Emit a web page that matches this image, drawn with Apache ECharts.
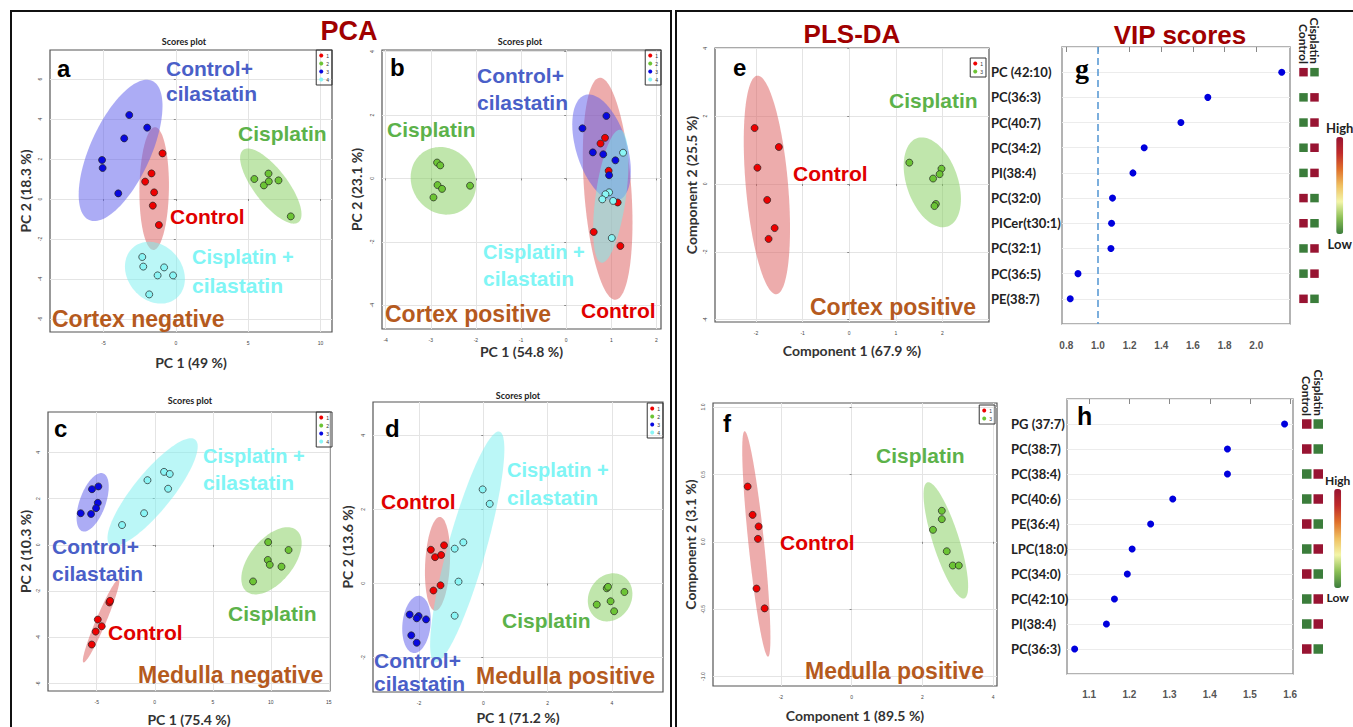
<!DOCTYPE html>
<html><head><meta charset="utf-8">
<script src="https://cdn.jsdelivr.net/npm/echarts@6/dist/echarts.min.js"></script>
<style>html,body{margin:0;padding:0;background:#fff}#c{width:1353px;height:727px}</style>
</head><body><div id="c"></div>
<script>
// ===== DATA =====
// Panel a : PCA cortex negative  [PC1, PC2]
const aControl       = [[-0.92,2.28],[-1.68,1.28],[-2.12,0.87],[-1.50,0.33],[-1.59,-0.33],[-1.17,-1.30]];
const aCisplatin     = [[5.43,1.00],[6.41,1.27],[6.09,0.68],[6.43,0.88],[7.10,0.93],[7.95,-0.87]];
const aControlCila   = [[-3.22,4.20],[-1.98,3.57],[-3.57,3.03],[-5.10,1.95],[-5.06,1.55],[-3.98,0.28]];
const aCisplatinCila = [[-2.32,-2.90],[-2.25,-3.38],[-0.81,-3.42],[-1.26,-3.82],[-0.19,-3.82],[-1.84,-4.77]];
// Panel b : PCA cortex positive
const bControl       = [[0.86,1.28],[0.76,1.10],[0.94,0.24],[1.14,-0.76],[0.61,-1.69],[1.20,-2.13]];
const bCisplatin     = [[-2.86,0.50],[-2.79,0.41],[-2.85,-0.21],[-2.75,-0.33],[-2.13,-0.23],[-2.94,-0.60]];
const bControlCila   = [[0.89,1.97],[0.36,1.58],[0.59,0.82],[0.82,0.76],[1.09,0.57],[0.95,0.10]];
const bCisplatinCila = [[1.26,0.81],[0.95,-0.44],[0.87,-0.50],[0.80,-0.66],[1.04,-0.71],[1.01,-1.88]];
// Panel c : PCA medulla negative
const cControl       = [[-3.91,-2.49],[-3.85,-2.42],[-4.91,-3.23],[-4.57,-3.52],[-5.09,-3.75],[-5.43,-4.31]];
const cCisplatin     = [[9.77,0.12],[11.53,-0.22],[9.74,-0.65],[9.91,-0.86],[10.92,-0.94],[8.47,-1.58]];
const cControlCila   = [[-5.41,2.41],[-4.86,2.53],[-4.91,1.82],[-5.06,1.59],[-6.38,1.37],[-5.49,1.34]];
const cCisplatinCila = [[0.80,3.16],[1.29,3.07],[-0.63,2.80],[1.15,2.43],[-0.92,1.37],[-2.82,0.86]];
// Panel d : PCA medulla positive
const dControl       = [[-1.63,0.91],[-1.22,1.03],[-1.50,0.71],[-1.31,0.77],[-1.33,-0.05],[-1.55,-0.19]];
const dCisplatin     = [[3.84,-0.13],[3.88,-0.09],[4.39,-0.23],[3.96,-0.48],[3.53,-0.57],[4.07,-0.75]];
const dControlCila   = [[-2.29,-0.84],[-2.01,-0.88],[-2.07,-0.94],[-1.78,-0.97],[-2.24,-1.40],[-2.07,-1.60]];
const dCisplatinCila = [[-0.02,2.54],[0.20,2.15],[-0.62,1.11],[-0.89,0.94],[-0.77,0.05],[-0.89,-0.87]];
// Panel e : PLS-DA cortex positive
const eControl   = [[-2.03,1.65],[-1.51,1.09],[-1.97,0.48],[-1.76,-0.47],[-1.60,-1.30],[-1.73,-1.62]];
const eCisplatin = [[1.29,0.63],[1.98,0.45],[1.94,0.29],[1.80,0.16],[1.86,-0.59],[1.83,-0.65]];
// Panel f : PLS-DA medulla positive
const fControl   = [[-2.94,0.41],[-2.80,0.20],[-2.63,0.114],[-2.65,0.022],[-2.69,-0.347],[-2.46,-0.494]];
const fCisplatin = [[2.55,0.23],[2.55,0.168],[2.30,0.089],[2.69,-0.07],[2.86,-0.176],[3.03,-0.176]];

// Tick labels
const aTicksX = [-5,0,5,10],           aTicksY = [-6,-4,-2,0,2,4,6];
const bTicksX = [-4,-3,-2,-1,0,1,2],   bTicksY = [-4,-2,0,2,4];
const cTicksX = [-5,0,5,10,15],        cTicksY = [-6,-4,-2,0,2,4];
const dTicksX = [-2,0,2,4],            dTicksY = [-2,0,2,4];
const eTicksX = [-2,-1,0,1,2],         eTicksY = [-4,-2,0,2,4];
const fTicksX = [-2,0,2,4],            fTicksY = [-1.0,-0.5,0.0,0.5,1.0];
const gTicksX = [0.8,1.0,1.2,1.4,1.6,1.8,2.0];
const hTicksX = [1.1,1.2,1.3,1.4,1.5,1.6];

// VIP scores
const gNames  = ['PC (42:10)','PC(36:3)','PC(40:7)','PC(34:2)','PI(38:4)','PC(32:0)','PICer(t30:1)','PC(32:1)','PC(36:5)','PE(38:7)'];
const gVIP    = [2.161,1.694,1.524,1.292,1.221,1.092,1.086,1.082,0.874,0.825];
const gHeatControl   = [1,0,0,0,0,1,1,0,0,1];
const gHeatCisplatin = [0,1,1,1,1,0,0,1,1,0];
const gThreshold = 1.0;
const hNames  = ['PG (37:7)','PC(38:7)','PC(38:4)','PC(40:6)','PE(36:4)','LPC(18:0)','PC(34:0)','PC(42:10)','PI(38:4)','PC(36:3)'];
const hVIP    = [1.586,1.444,1.444,1.308,1.253,1.207,1.195,1.163,1.143,1.064];
const hHeatControl   = [1,1,0,0,1,0,1,0,0,1];
const hHeatCisplatin = [0,0,1,1,0,1,0,1,1,0];
const heatColumns = ['Control','Cisplatin'];

// ===== STYLE =====
const SANS = '"Liberation Sans", Arial, sans-serif';
const LATO = 'Lato, "Open Sans", sans-serif';
const C_RED='#e00000', C_GREEN='#5cb24a', C_BLUE='#4a5fc8', C_CYAN='#80f5f5', C_BROWN='#b55a1e', C_TITLE='#a00000';
const P_RED='#ee0000', P_GREEN='#6cc435', P_BLUE='#0808e0', P_CYAN='#8af5f5';
const F_RED='rgba(220,90,90,0.5)', F_GREEN='rgba(130,205,90,0.5)', F_BLUE='rgba(90,90,235,0.5)', F_CYAN='rgba(120,240,240,0.5)';
const heatColors = ['#3b7d3b','#8cc056','#f3f5a8','#f0c060','#e0702a','#c02a2a','#981432'];

const chart = echarts.init(document.getElementById('c'), null, {renderer:'svg'});
const grid=[], xAxis=[], yAxis=[], series=[], legend=[], visualMap=[], graphic=[];

function ellipse95(pts){
  const n=pts.length; let mx=0,my=0;
  pts.forEach(p=>{mx+=p[0];my+=p[1];}); mx/=n; my/=n;
  let sxx=0,syy=0,sxy=0;
  pts.forEach(p=>{const dx=p[0]-mx, dy=p[1]-my; sxx+=dx*dx; syy+=dy*dy; sxy+=dx*dy;});
  sxx/=(n-1); syy/=(n-1); sxy/=(n-1);
  const tr=sxx+syy, det=sxx*syy-sxy*sxy;
  const disc=Math.sqrt(Math.max(tr*tr/4-det,0));
  const l1=tr/2+disc, l2=Math.max(tr/2-disc,1e-12);
  const th=0.5*Math.atan2(2*sxy, sxx-syy);
  const k=Math.sqrt(5.991), r1=k*Math.sqrt(l1), r2=k*Math.sqrt(l2);
  const out=[];
  for(let i=0;i<120;i++){
    const t=2*Math.PI*i/120, c=Math.cos(t), s=Math.sin(t);
    out.push([mx + r1*c*Math.cos(th) - r2*s*Math.sin(th), my + r1*c*Math.sin(th) + r2*s*Math.cos(th)]);
  }
  return out;
}

function valueAxis(gi, range, ticks, dec, isY, name, gap){
  const step = ticks[1]-ticks[0];
  return {
    type:'value', gridIndex:gi, min:range[0], max:range[1],
    splitNumber: Math.round((range[1]-range[0])/step), minInterval:step, maxInterval:step,
    name:name, nameLocation:'middle', nameGap:gap,
    nameTextStyle:{fontFamily:LATO, fontWeight:'bold', fontSize:14, color:'#333'},
    axisLine:{show:false},
    axisTick:{show:true, length:2, customValues:ticks, lineStyle:{color:'#888'}},
    axisLabel:{customValues:ticks, formatter:v=>Number(v).toFixed(dec), fontSize:5, color:'#444',
               rotate:isY?90:0, margin:8, fontFamily:SANS},
    splitLine:{show:true, lineStyle:{color:'#e4e4e4', width:1}}
  };
}

function scorePanel(p){
  const gi = grid.length;
  grid.push({left:p.box[0], top:p.box[1], width:p.box[2], height:p.box[3], show:true,
             borderColor:'#555', borderWidth:1.2, backgroundColor:'#fff'});
  xAxis.push(valueAxis(gi, p.xr, p.xt, p.xd||0, false, p.xName, p.xGap));
  yAxis.push(valueAxis(gi, p.yr, p.yt, p.yd||0, true, p.yName, p.yGap));
  p.groups.forEach(g=>{
    const poly = ellipse95(g.pts);
    series.push({type:'custom', xAxisIndex:gi, yAxisIndex:gi, z:1, silent:true, clip:true,
      data:[poly[0]],
      renderItem:(params, api)=>({type:'polygon', shape:{points:poly.map(q=>api.coord(q))},
                                  style:{fill:g.fill, stroke:null}})});
  });
  const names=[];
  p.groups.forEach(g=>{
    const nm = p.id+':'+g.label; names.push(nm);
    series.push({type:'scatter', name:nm, xAxisIndex:gi, yAxisIndex:gi, z:3, data:g.pts, symbolSize:7,
      itemStyle:{color:g.color, borderColor:'#222', borderWidth:0.7, opacity:1}});
  });
  legend.push({data:names, orient:'vertical', right:p.leg[0], top:p.leg[1], itemWidth:4, itemHeight:4,
    itemGap:3, padding:[3,3,3,3], borderColor:'#333', borderWidth:1, icon:'circle', selectedMode:false,
    itemStyle:{borderWidth:0}, formatter:nm=>nm.split(':')[1],
    textStyle:{fontSize:5, color:'#333', fontFamily:SANS, padding:[0,0,0,-2]}});
}

function vipPanel(p){
  const gi = grid.length;
  grid.push({left:p.box[0], top:p.box[1], width:p.box[2], height:p.box[3], show:true,
             borderColor:'#9a9a9a', borderWidth:1.5});
  const step = p.xt[1]-p.xt[0];
  xAxis.push({type:'value', gridIndex:gi, min:p.xr[0], max:p.xr[1],
    splitNumber:Math.round((p.xr[1]-p.xr[0])/step), minInterval:step, maxInterval:step,
    axisLine:{show:false}, axisTick:{show:true, length:5, customValues:p.xt, lineStyle:{color:'#888'}},
    axisLabel:{customValues:p.xt, formatter:v=>Number(v).toFixed(1), fontFamily:SANS, fontWeight:'bold',
               fontSize:10, color:'#555', margin:p.xMargin},
    splitLine:{show:false}});
  const rows = p.names.map((n,i)=>i+1);
  yAxis.push({type:'value', gridIndex:gi, min:0, max:p.names.length+1, interval:1, inverse:true,
    axisLine:{show:false}, axisTick:{show:false},
    axisLabel:{customValues:rows, formatter:v=>p.names[Math.round(v)-1]||'', align:'left', margin:p.labelMargin,
               fontFamily:LATO, fontWeight:'bold', fontSize:13, color:'#222'},
    splitLine:{show:true, lineStyle:{color:'#ececec', width:1}}});
  const s = {type:'scatter', xAxisIndex:gi, yAxisIndex:gi, data:p.values.map((v,i)=>[v,i+1]),
    symbolSize:7, z:3, itemStyle:{color:'#0000dd', opacity:1}};
  if(p.threshold!=null){
    s.markLine={silent:true, symbol:'none', label:{show:false},
      lineStyle:{type:[7,4], color:'#5b9bd5', width:1.6}, data:[{xAxis:p.threshold}]};
  }
  series.push(s);
  // heat cells
  const hi = grid.length;
  const per = p.box[3]/(p.names.length+1);
  const yMin = (p.headBottom - p.box[1])/per;
  grid.push({left:p.heat[0], top:p.headBottom, width:p.heat[1], height:p.box[1]+p.box[3]-p.headBottom});
  xAxis.push({type:'category', gridIndex:hi, data:heatColumns, position:'top',
    axisLine:{show:false}, axisTick:{show:false}, splitLine:{show:false},
    axisLabel:{interval:0, rotate:90, margin:2, fontFamily:LATO, fontWeight:'bold', fontSize:12, color:'#222'}});
  yAxis.push({type:'value', gridIndex:hi, min:yMin, max:p.names.length+1, inverse:true, show:false});
  const cells=[];
  p.names.forEach((n,i)=>{cells.push([0,i+1,p.ctrl[i]]); cells.push([1,i+1,p.cis[i]]);});
  const si = series.length;
  series.push({type:'scatter', xAxisIndex:hi, yAxisIndex:hi, symbol:'rect', symbolSize:p.cell, data:cells,
    itemStyle:{opacity:1, borderWidth:0}});
  visualMap.push({type:'continuous', seriesIndex:si, dimension:2, min:0, max:1, calculable:false,
    orient:'vertical', left:p.vm[0], top:p.vm[1], itemWidth:7, itemHeight:p.vm[2],
    text:['High','Low'], textGap:3, padding:0,
    textStyle:{fontFamily:LATO, fontWeight:'bold', fontSize:p.vm[3], color:'#222'},
    inRange:{color:heatColors}});
}

// ===== PANELS =====
const grp4 = (ctl,cis,cc,cic)=>[
  {label:'1', pts:ctl, color:P_RED,   fill:F_RED},
  {label:'2', pts:cis, color:P_GREEN, fill:F_GREEN},
  {label:'3', pts:cc,  color:P_BLUE,  fill:F_BLUE},
  {label:'4', pts:cic, color:P_CYAN,  fill:F_CYAN}];
const grp2 = (ctl,cis)=>[
  {label:'1', pts:ctl, color:P_RED,   fill:F_RED},
  {label:'3', pts:cis, color:P_GREEN, fill:F_GREEN}];

scorePanel({id:'a', box:[50,50,282,282], xr:[-8.7,10.8], yr:[-6.65,7.45], xt:aTicksX, yt:aTicksY,
  xName:'PC 1 (49 %)', yName:'PC 2 (18.3 %)', xGap:23, yGap:18, leg:[1021,50],
  groups:grp4(aControl,aCisplatin,aControlCila,aCisplatinCila)});
scorePanel({id:'b', box:[382,50,279,279], xr:[-4.08,2.1], yr:[-4.75,4.05], xt:bTicksX, yt:bTicksY,
  xName:'PC 1 (54.8 %)', yName:'PC 2 (23.1 %)', xGap:15, yGap:19, leg:[692,50],
  groups:grp4(bControl,bCisplatin,bControlCila,bCisplatinCila)});
scorePanel({id:'c', box:[48,412,282,280], xr:[-9.2,15.1], yr:[-6.32,5.75], xt:cTicksX, yt:cTicksY,
  xName:'PC 1 (75.4 %)', yName:'PC 2 (10.3 %)', xGap:21, yGap:16, leg:[1021,412],
  groups:grp4(cControl,cCisplatin,cControlCila,cCisplatinCila)});
scorePanel({id:'d', box:[373,402,290,290], xr:[-3.43,5.59], yr:[-2.93,4.9], xt:dTicksX, yt:dTicksY,
  xName:'PC 1 (71.2 %)', yName:'PC 2 (13.6 %)', xGap:18, yGap:19, leg:[690,403],
  groups:grp4(dControl,dCisplatin,dControlCila,dCisplatinCila)});
scorePanel({id:'e', box:[715,48,274,274], xr:[-2.88,3.0], yr:[-4.07,4.01], xt:eTicksX, yt:eTicksY,
  xName:'Component 1 (67.9 %)', yName:'Component 2 (25.5 %)', xGap:21, yGap:17, leg:[367,58],
  groups:grp2(eControl,eCisplatin)});
scorePanel({id:'f', box:[713,403,284,283], xr:[-3.92,4.11], yr:[-1.07,1.03], xt:fTicksX, yt:fTicksY, yd:1,
  xName:'Component 1 (89.5 %)', yName:'Component 2 (3.1 %)', xGap:22, yGap:16, leg:[358,405],
  groups:grp2(fControl,fCisplatin)});

vipPanel({box:[1062,47,228,277], xr:[0.773,2.213], xt:gTicksX, xMargin:16, names:gNames, values:gVIP,
  ctrl:gHeatControl, cis:gHeatCisplatin, threshold:gThreshold, labelMargin:71,
  heat:[1298,22], headBottom:66, cell:8.5, vm:[1326,121,97,13]});
vipPanel({box:[1067,399,226,275], xr:[1.045,1.607], xt:hTicksX, xMargin:15, names:hNames, values:hVIP,
  ctrl:hHeatControl, cis:hHeatCisplatin, threshold:null, labelMargin:56,
  heat:[1301,23], headBottom:418, cell:9.5, vm:[1325,474,99,12]});

// ===== TEXT / FRAMES =====
function T(text, x, y, size, color, family, align){
  graphic.push({type:'text', x:x, y:y, z:50, silent:true, style:{text:text, fill:color||'#000',
    font:'bold '+size+'px '+(family||SANS), align:align||'left', verticalAlign:'middle',
    textAlign:align||'left', textVerticalAlign:'middle'}});
}
graphic.push({type:'rect', z:40, silent:true, shape:{x:11,y:11,width:660,height:740}, style:{fill:'none', stroke:'#111', lineWidth:2}});
graphic.push({type:'rect', z:40, silent:true, shape:{x:676,y:11,width:700,height:740}, style:{fill:'none', stroke:'#111', lineWidth:2}});

T('PCA', 349, 31, 27, C_TITLE, SANS, 'center');
T('PLS-DA', 852, 34, 26, C_TITLE, SANS, 'center');
T('VIP scores', 1180, 35, 26, C_TITLE, SANS, 'center');
T('Scores plot', 184, 41, 9, '#222', LATO, 'center');
T('Scores plot', 520, 41, 9, '#222', LATO, 'center');
T('Scores plot', 190, 400, 9, '#222', LATO, 'center');
T('Scores plot', 518, 395, 9, '#222', LATO, 'center');

// a
T('a', 57, 68, 24, '#000');
T('Control+', 166, 68, 21, C_BLUE);  T('cilastatin', 166, 93, 21, C_BLUE);
T('Cisplatin', 238, 133, 21, C_GREEN);
T('Control', 170, 216, 21, C_RED);
T('Cisplatin +', 192, 257, 20, C_CYAN); T('cilastatin', 192, 285, 21, C_CYAN);
T('Cortex negative', 52, 319, 23, C_BROWN);
// b
T('b', 390, 67, 24, '#000');
T('Control+', 477, 75, 21, C_BLUE);  T('cilastatin', 477, 102, 21, C_BLUE);
T('Cisplatin', 387, 129, 21, C_GREEN);
T('Cisplatin +', 483, 252, 20, C_CYAN); T('cilastatin', 483, 278, 21, C_CYAN);
T('Control', 581, 310, 21, C_RED);
T('Cortex positive', 385, 314, 23, C_BROWN);
// c
T('c', 54, 428, 24, '#000');
T('Cisplatin +', 203, 456, 20, C_CYAN); T('cilastatin', 203, 482, 21, C_CYAN);
T('Control+', 52, 546, 21, C_BLUE);  T('cilastatin', 52, 573, 21, C_BLUE);
T('Cisplatin', 228, 613, 21, C_GREEN);
T('Control', 108, 632, 21, C_RED);
T('Medulla negative', 138, 675, 23, C_BROWN);
// d
T('d', 385, 428, 24, '#000');
T('Cisplatin +', 507, 470, 20, C_CYAN); T('cilastatin', 507, 497, 21, C_CYAN);
T('Control', 381, 501, 21, C_RED);
T('Cisplatin', 502, 620, 21, C_GREEN);
T('Control+', 374, 660, 21, C_BLUE);  T('cilastatin', 374, 683, 21, C_BLUE);
T('Medulla positive', 476, 676, 23, C_BROWN);
// e
T('e', 733, 67, 24, '#000');
T('Cisplatin', 889, 100, 21, C_GREEN);
T('Control', 793, 173, 21, C_RED);
T('Cortex positive', 810, 307, 23, C_BROWN);
// f
T('f', 723, 423, 24, '#000');
T('Cisplatin', 876, 455, 21, C_GREEN);
T('Control', 780, 542, 21, C_RED);
T('Medulla positive', 805, 671, 23, C_BROWN);
// g, h
T('g', 1075, 68, 28, '#000', '"Liberation Serif", "DejaVu Serif", serif');
T('h', 1077, 416, 25, '#000');

chart.setOption({animation:false, backgroundColor:'#fff', grid, xAxis, yAxis, series, legend, visualMap, graphic});
</script></body></html>
